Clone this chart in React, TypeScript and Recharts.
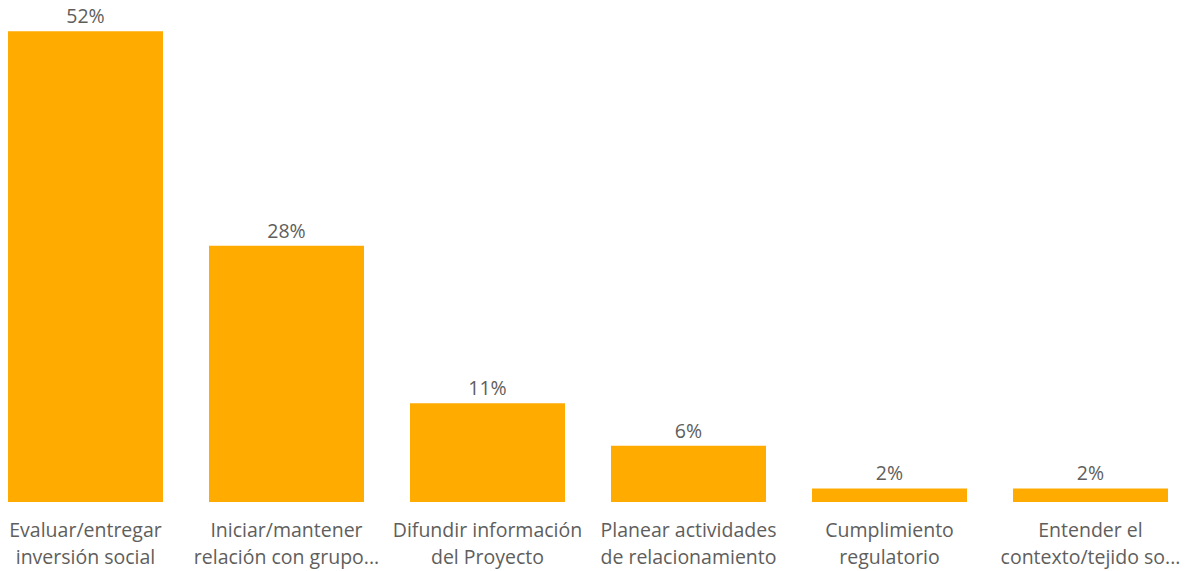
import { Bar, BarChart, LabelList, XAxis, YAxis } from "recharts";

const categories = [
  "Evaluar/entregar inversión social",
  "Iniciar/mantener relación con grupo...",
  "Difundir información del Proyecto",
  "Planear actividades de relacionamiento",
  "Cumplimiento regulatorio",
  "Entender el contexto/tejido so...",
];

const tickLines = [
  ["Evaluar/entregar", "inversión social"],
  ["Iniciar/mantener", "relación con grupo..."],
  ["Difundir información", "del Proyecto"],
  ["Planear actividades", "de relacionamiento"],
  ["Cumplimiento", "regulatorio"],
  ["Entender el", "contexto/tejido so..."],
];

const shares = [52, 28.3, 10.9, 6.2, 1.5, 1.5];

const data = categories.map((name, i) => ({ name, value: shares[i] }));

const FONT = "'Open Sans', 'Noto Sans', sans-serif";
const TEXT = "#605E5C";

function CategoryTick(props: any) {
  const { x, y, index } = props;
  const lines = tickLines[index] ?? [];
  return (
    <text x={x} y={y} textAnchor="middle" fill={TEXT} fontFamily={FONT} fontSize={19.5}>
      {lines.map((l, i) => (
        <tspan key={i} x={x} dy={i === 0 ? 27 : 27}>
          {l}
        </tspan>
      ))}
    </text>
  );
}

export default function App() {
  return (
    <div style={{ position: "absolute", left: -15, top: 0, width: 1206, height: 571 }}>
      <BarChart
        width={1206}
        height={571}
        data={data}
        margin={{ top: 4, right: 0, left: 0, bottom: 0 }}
      >
        <XAxis
          dataKey="name"
          axisLine={false}
          tickLine={false}
          interval={0}
          height={69}
          tick={<CategoryTick />}
        />
        <YAxis hide domain={[0, 55]} />
        <Bar dataKey="value" fill="#FFAB00" barSize={155} isAnimationActive={false}>
          <LabelList
            dataKey="value"
            position="top"
            offset={8}
            fill={TEXT}
            fontFamily={FONT}
            fontSize={19.5}
            formatter={(v: any) => `${Math.round(Number(v))}%`}
          />
        </Bar>
      </BarChart>
    </div>
  );
}
